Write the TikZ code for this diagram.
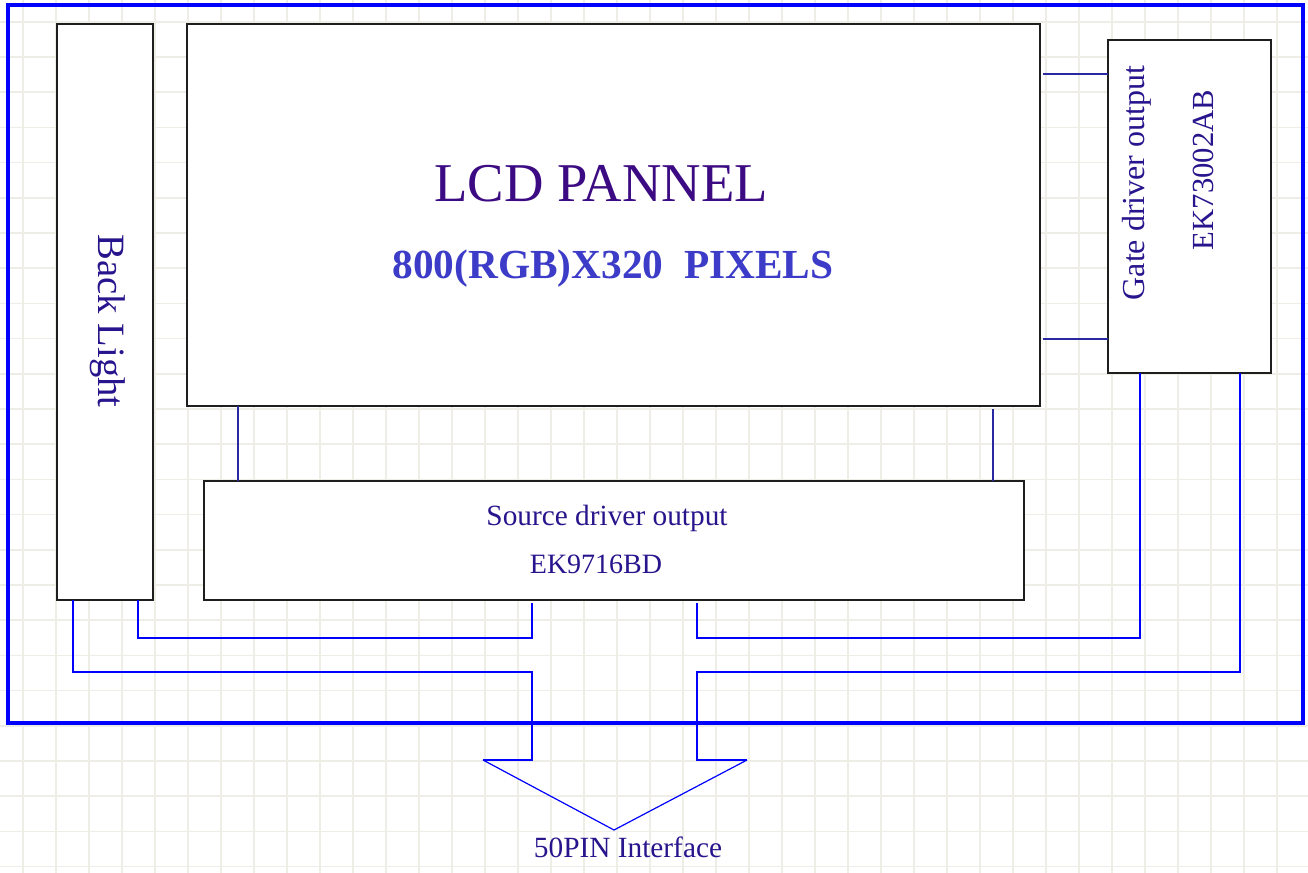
\documentclass[tikz,border=0pt]{standalone}
\usepackage{fontspec}
\setmainfont{Liberation Serif}
\usetikzlibrary{positioning,calc}
\definecolor{gridgray}{RGB}{238,238,230}
\definecolor{linknavy}{RGB}{40,40,160}
\definecolor{titleink}{RGB}{60,10,130}
\definecolor{labelink}{RGB}{40,20,140}
\definecolor{pixink}{RGB}{60,60,200}
\definecolor{boxline}{RGB}{30,30,30}

\begin{document}
\begin{tikzpicture}[x=0.75pt, y=-0.75pt]
    \tikzstyle{block} = [draw=boxline, fill=white, line width=1.9pt, rectangle, inner sep=0pt, outer sep=0pt]
    \tikzstyle{gridline} = [draw=gridgray, line width=1.1pt]
    \tikzstyle{link} = [draw=linknavy, line width=1.3pt]
    \tikzstyle{wire} = [draw=blue, line width=1.4pt]
    \tikzstyle{caption} = [text=labelink, inner sep=0pt, font=\fontsize{22}{26}\selectfont]

    \useasboundingbox (0,0) rectangle (1308,873);
    \fill[white] (0,0) rectangle (1308,873);

    % Grid
    \foreach \gx in {23,56,...,1310} \draw[gridline] (\gx,0) -- (\gx,873);
    \foreach \gy in {21.8,57,...,870} \draw[gridline] (0,\gy) -- (1308,\gy);

    % Frame
    \draw[draw=blue, line width=3pt] (8,5) rectangle (1303,723);

    % Nodes
    \node [block, minimum width=72pt, minimum height=432pt] (backlight) at (105,312) {};
    \node [block, minimum width=639.75pt, minimum height=286.5pt] (lcd) at (613.5,215) {};
    \node [block, minimum width=122.25pt, minimum height=249.75pt] (gate) at (1189.5,206.5) {};
    \node [block, minimum width=615pt, minimum height=89.25pt] (src) at (614,540.5) {};

    \node [caption, anchor=base, text=titleink, font=\fontsize{41}{48}\selectfont] (lcdtitle) at (601,202) {LCD PANNEL};
    \node [caption, anchor=base, text=pixink, font=\bfseries\fontsize{31}{36}\selectfont] (lcdpix) at (613,278) {800(RGB)X320\ \ PIXELS};
    \node [caption, rotate=-90, font=\fontsize{29}{34}\selectfont] (bltext) at (108,321) {Back Light};
    \node [caption, rotate=90, font=\fontsize{24}{28}\selectfont] (gatetext) at (1137,183) {Gate driver output};
    \node [caption, rotate=90, font=\fontsize{23}{28}\selectfont] (gatechip) at (1203,170) {EK73002AB};
    \node [caption, anchor=base] (srctext) at (607,525) {Source driver output};
    \node [caption, anchor=base, font=\fontsize{21}{26}\selectfont] (srcchip) at (596,573) {EK9716BD};

    \coordinate (busL) at (532,760);
    \coordinate (busR) at (697,760);
    \coordinate (pinL) at (483,760);
    \coordinate (pinR) at (747,760);
    \coordinate (pin) at (614,830);
    \node [caption, anchor=base] (pinlabel) at (628,857) {50PIN Interface};

    % Paths
    \draw [link] ($(lcd.north east)+(3,50)$) -- ($(gate.north west)+(0,34)$);
    \draw [link] ($(lcd.north east)+(3,315)$) -- ($(gate.north west)+(0,299)$);
    \draw [link] ($(lcd.south west)+(51,0)$) -- ($(src.north west)+(34,0)$);
    \draw [link] ($(lcd.south east)+(-47,3)$) -- ($(src.north east)+(-31,0)$);

    \draw [wire] ($(backlight.south east)+(-15,0)$) -- ++(0,38) -| ($(src.south west)+(328,3)$);
    \draw [wire] ($(backlight.south west)+(16,0)$) -- ++(0,72) -| (busL) -- (pinL);
    \draw [blue, line width=0.9pt] (pinL) -- (pin) -- (pinR);
    \draw [wire] (pinR) -- (busR) -- ++(0,-88) -| ($(gate.south east)+(-31,0)$);
    \draw [wire] ($(src.south west)+(493,3)$) -- ++(0,35) -| ($(gate.south west)+(32,0)$);
\end{tikzpicture}
\end{document}
